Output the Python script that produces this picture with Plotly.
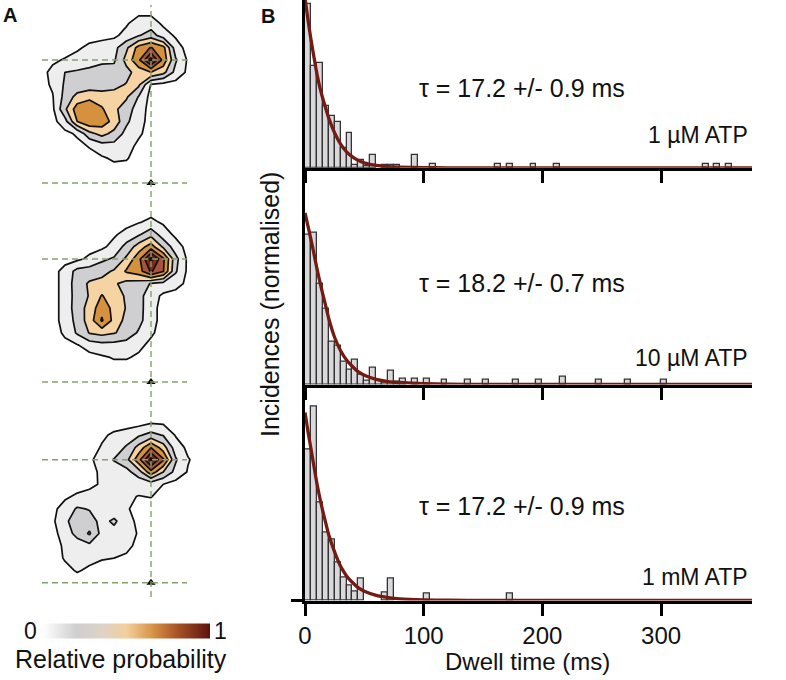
import plotly.graph_objects as go

W, H = 786, 680

# ================= DATA =================
# ---- Panel B: dwell-time histograms (5 ms bins, centres in ms) ----
BIN_WIDTH = 5
P1_BIN_CENTERS = [2.5, 7.5, 12.5, 17.5, 22.5, 27.5, 32.5, 37.5, 42.5, 47.5, 52.5, 57.5,
                  67.5, 72.5, 77.5, 92.5, 107.5, 162.5, 172.5, 192.5, 212.5, 337.5, 347.5, 357.5]
P1_INCIDENCE = [0.994, 0.62, 0.636, 0.374, 0.313, 0.279, 0.12, 0.212, 0.02, 0.05, 0.01, 0.08,
                0.016, 0.016, 0.016, 0.08, 0.026, 0.026, 0.026, 0.026, 0.026, 0.026, 0.026, 0.026]

P2_BIN_CENTERS = [2.5, 7.5, 12.5, 17.5, 22.5, 27.5, 32.5, 37.5, 42.5, 47.5, 52.5, 57.5,
                  62.5, 67.5, 72.5, 77.5, 82.5, 92.5, 102.5, 117.5, 137.5, 152.5, 177.5,
                  197.5, 217.5, 247.5, 272.5, 302.5]
P2_INCIDENCE = [0.91, 0.92, 0.612, 0.459, 0.257, 0.236, 0.135, 0.087, 0.152, 0.06, 0.02, 0.1,
                0.02, 0.01, 0.085, 0.015, 0.034, 0.034, 0.034, 0.026, 0.026, 0.026, 0.026,
                0.026, 0.045, 0.026, 0.026, 0.026]

P3_BIN_CENTERS = [2.5, 7.5, 12.5, 17.5, 22.5, 27.5, 32.5, 37.5, 42.5, 47.5, 67.5, 72.5,
                  102.5, 172.5]
P3_INCIDENCE = [0.915, 1.174, 0.596, 0.414, 0.368, 0.232, 0.137, 0.093, 0.052, 0.135, 0.048,
                0.135, 0.045, 0.042]

# single-exponential fits, values
FIT_T = [0, 2.5, 5, 7.5, 10, 12.5, 15, 17.5, 20, 25, 30, 35, 40, 45, 50, 60, 70, 80,
         100, 120, 150, 376.6]
FIT1_Y = [1.03, 0.897, 0.779, 0.673, 0.571, 0.488, 0.42, 0.359, 0.301, 0.211, 0.144, 0.097,
          0.066, 0.044, 0.03, 0.014, 0.007, 0.0035, 0.001, 0.0, 0.0, 0.0]
FIT2_Y = [1.04, 0.96, 0.88, 0.794, 0.705, 0.624, 0.548, 0.475, 0.4, 0.285, 0.205, 0.149,
          0.109, 0.076, 0.056, 0.031, 0.018, 0.012, 0.005, 0.002, 0.001, 0.0]
FIT3_Y = [1.14, 1.025, 0.921, 0.815, 0.711, 0.621, 0.542, 0.469, 0.398, 0.293, 0.207, 0.149,
          0.109, 0.076, 0.056, 0.031, 0.018, 0.01, 0.004, 0.002, 0.001, 0.0]

TAU_LABELS = ["τ = 17.2 +/- 0.9 ms", "τ = 18.2 +/- 0.7 ms", "τ = 17.2 +/- 0.9 ms"]
CONDITION_LABELS = ["1 µM ATP", "10 µM ATP", "1 mM ATP"]
X_TICKS = [0, 100, 200, 300]
X_TICK_LABELS = ["0", "100", "200", "300"]
X_TITLE = "Dwell time (ms)"
Y_TITLE = "Incidences (normalised)"

# ---- Panel A: relative-probability maps (grid in arbitrary units) ----
GRID_X = [-9, -8, -7, -6, -5, -4, -3, -2, -1, 0, 1, 2, 3, 4]
GRID_Y = [0, 1, 2, 3, 4, 5, 6, 7, 8, 9, 10, 11, 12, 13, 14]

Z_A1 = [
    [0, 0, 0, 0, 0, 0, 0, 0, 0, 0, 0, 0, 0, 0],
    [0, 0, 0, 0, 0, 0, 0, 0, 0, 0, 0, 0, 0, 0],
    [0, 0, 0, 0, 0, 0.03, 0.07, 0.06, 0, 0, 0, 0, 0, 0],
    [0, 0, 0, 0.01, 0.06, 0.13, 0.15, 0.1, 0.02, 0, 0, 0, 0, 0],
    [0, 0, 0.01, 0.07, 0.3, 0.4, 0.3, 0.15, 0.07, 0, 0, 0, 0, 0],
    [0, 0, 0.14, 0.5, 0.62, 0.58, 0.45, 0.23, 0.1, 0, 0, 0, 0, 0],
    [0, 0.02, 0.32, 0.58, 0.62, 0.52, 0.38, 0.28, 0.12, 0, 0, 0, 0, 0],
    [0, 0.04, 0.25, 0.4, 0.46, 0.42, 0.42, 0.37, 0.19, 0, 0, 0, 0, 0],
    [0, 0.07, 0.22, 0.25, 0.26, 0.27, 0.3, 0.36, 0.38, 0.04, 0, 0, 0, 0],
    [0.01, 0.08, 0.2, 0.22, 0.23, 0.24, 0.25, 0.3, 0.42, 0.5, 0.4, 0.15, 0.02, 0],
    [0, 0.03, 0.06, 0.1, 0.15, 0.18, 0.18, 0.4, 0.62, 1.0, 0.6, 0.22, 0.03, 0],
    [0, 0, 0, 0.03, 0.08, 0.12, 0.15, 0.32, 0.56, 0.66, 0.55, 0.12, 0, 0],
    [0, 0, 0, 0, 0, 0, 0.02, 0.1, 0.19, 0.27, 0.12, 0.03, 0, 0],
    [0, 0, 0, 0, 0, 0, 0, 0.03, 0.12, 0.12, 0.02, 0, 0, 0],
    [0, 0, 0, 0, 0, 0, 0, 0, 0, 0, 0, 0, 0, 0],
]

Z_A2 = [
    [0, 0, 0, 0, 0, 0, 0, 0, 0, 0, 0, 0, 0, 0],
    [0, 0, 0, 0, 0, 0, 0, 0, 0, 0, 0, 0, 0, 0],
    [0, 0, 0, 0, 0, 0.03, 0.06, 0.06, 0.03, 0, 0, 0, 0, 0],
    [0, 0, 0.02, 0.04, 0.12, 0.15, 0.15, 0.13, 0.08, 0.02, 0, 0, 0, 0],
    [0, 0, 0.07, 0.22, 0.36, 0.4, 0.36, 0.3, 0.18, 0.07, 0, 0, 0, 0],
    [0, 0, 0.1, 0.25, 0.42, 0.67, 0.45, 0.3, 0.25, 0.1, 0, 0, 0, 0],
    [0, 0, 0.1, 0.28, 0.4, 0.6, 0.45, 0.34, 0.26, 0.1, 0, 0, 0, 0],
    [0, 0, 0.1, 0.27, 0.36, 0.51, 0.42, 0.33, 0.25, 0.12, 0.02, 0, 0, 0],
    [0, 0, 0.1, 0.28, 0.37, 0.4, 0.37, 0.3, 0.28, 0.19, 0.15, 0.1, 0.02, 0],
    [0, 0, 0.1, 0.25, 0.27, 0.3, 0.37, 0.52, 0.58, 0.82, 0.66, 0.22, 0.02, 0],
    [0, 0, 0, 0.02, 0.08, 0.17, 0.22, 0.38, 0.6, 1.0, 0.68, 0.25, 0.02, 0],
    [0, 0, 0, 0, 0, 0.02, 0.1, 0.25, 0.42, 0.57, 0.32, 0.12, 0, 0],
    [0, 0, 0, 0, 0, 0, 0.03, 0.1, 0.18, 0.3, 0.12, 0.02, 0, 0],
    [0, 0, 0, 0, 0, 0, 0, 0, 0.04, 0.08, 0.03, 0, 0, 0],
    [0, 0, 0, 0, 0, 0, 0, 0, 0, 0, 0, 0, 0, 0],
]

Z_A3 = [
    [0, 0, 0, 0, 0, 0, 0, 0, 0, 0, 0, 0, 0, 0],
    [0, 0, 0.02, 0.06, 0.03, 0, 0, 0, 0, 0, 0, 0, 0, 0],
    [0, 0, 0.06, 0.1, 0.08, 0.06, 0.05, 0.03, 0, 0, 0, 0, 0, 0],
    [0, 0, 0.07, 0.12, 0.16, 0.12, 0.1, 0.08, 0.02, 0, 0, 0, 0, 0],
    [0, 0, 0.12, 0.25, 0.37, 0.15, 0.14, 0.1, 0.04, 0, 0, 0, 0, 0],
    [0, 0.02, 0.18, 0.25, 0.27, 0.15, 0.23, 0.1, 0.02, 0, 0, 0, 0, 0],
    [0, 0.02, 0.1, 0.22, 0.19, 0.1, 0.1, 0.06, 0.02, 0, 0, 0, 0, 0],
    [0, 0, 0.03, 0.07, 0.08, 0.09, 0.09, 0.07, 0.045, 0.055, 0, 0, 0, 0],
    [0, 0, 0, 0, 0.03, 0.06, 0.07, 0.08, 0.1, 0.11, 0.05, 0, 0, 0],
    [0, 0, 0, 0, 0, 0.08, 0.12, 0.15, 0.28, 0.6, 0.35, 0.15, 0.04, 0],
    [0, 0, 0, 0, 0.02, 0.12, 0.21, 0.3, 0.6, 1.0, 0.67, 0.22, 0.06, 0],
    [0, 0, 0, 0, 0, 0.06, 0.1, 0.22, 0.4, 0.64, 0.42, 0.12, 0.02, 0],
    [0, 0, 0, 0, 0, 0.03, 0.07, 0.1, 0.18, 0.25, 0.19, 0.04, 0, 0],
    [0, 0, 0, 0, 0, 0, 0, 0, 0, 0.04, 0.03, 0, 0, 0],
    [0, 0, 0, 0, 0, 0, 0, 0, 0, 0, 0, 0, 0, 0],
]
Z_MAPS = [Z_A1, Z_A2, Z_A3]
REF_LINES_Y = [0, 10]          # dashed reference positions
REF_LINE_X = [-8.86, 2.93]
COLORBAR_LABELS = ["0", "1", "Relative probability"]

# ================= STYLE =================
FONT = "Liberation Sans, Arial, Helvetica, sans-serif"
BAR_FILL = "#d9d9dc"
BAR_EDGE = "#333333"
FIT_COLOR = "#741c14"
DASH_COLOR = "#86a06a"
CONTOUR_SCALE = [[0, "#ffffff"], [1 / 7, "#eeeeee"], [2 / 7, "#cfcfd2"], [3 / 7, "#f6d3a2"],
                 [4 / 7, "#d6913f"], [5 / 7, "#a8533a"], [6 / 7, "#7e2a1c"], [1, "#5a1510"]]
BAR_SCALE = [[0, "#ffffff"], [0.2, "#cfcfcf"], [0.35, "#ddd3c6"], [0.5, "#f3cf9c"],
             [0.65, "#d9964a"], [0.8, "#aa5527"], [1, "#5c130c"]]


def px_x(px):
    return px / W


def px_y(py):
    return 1 - py / H


# geometry of panel B
XB0, XB1 = 305.0, 752.0
X_MAX = 376.6
PX_PER_UNIT = 165.0
B_ROWS = [(0.0, 167.8), (167.8, 384.5), (384.5, 600.5)]   # (top px, baseline px)

# geometry of panel A
A_SCALE = 12.3
A_ORIGIN_X = 151.0
A_ORIGIN_Y = [183.0, 382.0, 582.7]
A_XR = [-10.6, 4.0]
A_YR = [-1.4, 14.7]

fig = go.Figure()

hist_data = [(P1_BIN_CENTERS, P1_INCIDENCE, FIT1_Y),
             (P2_BIN_CENTERS, P2_INCIDENCE, FIT2_Y),
             (P3_BIN_CENTERS, P3_INCIDENCE, FIT3_Y)]

layout_axes = {}
for i, ((centers, vals, fit), (top, base)) in enumerate(zip(hist_data, B_ROWS)):
    n = i + 1
    xa = "x" if n == 1 else f"x{n}"
    ya = "y" if n == 1 else f"y{n}"
    fig.add_trace(go.Bar(x=centers, y=vals, width=BIN_WIDTH, xaxis=xa, yaxis=ya,
                         marker=dict(color=BAR_FILL, line=dict(color=BAR_EDGE, width=1.3)),
                         hoverinfo="skip", showlegend=False))
    fig.add_trace(go.Scatter(x=FIT_T, y=fit, xaxis=xa, yaxis=ya, mode="lines",
                             line=dict(color=FIT_COLOR, width=3.3, shape="spline", smoothing=0.6),
                             hoverinfo="skip", showlegend=False))
    layout_axes["xaxis" if n == 1 else f"xaxis{n}"] = dict(
        domain=[px_x(XB0), px_x(XB1)], range=[0, X_MAX], anchor=ya,
        showline=True, linewidth=3, linecolor="black", layer="below traces",
        ticks="outside", ticklen=12, tickwidth=3, tickcolor="black",
        tickvals=X_TICKS, ticktext=X_TICK_LABELS, showticklabels=(n == 3),
        tickfont=dict(family=FONT, size=24, color="#111"), ticklabelstandoff=0,
        showgrid=False, zeroline=False, automargin=False, fixedrange=True)
    layout_axes["yaxis" if n == 1 else f"yaxis{n}"] = dict(
        domain=[px_y(base), px_y(top)], range=[0, (base - top) / PX_PER_UNIT], anchor=xa,
        showline=True, linewidth=3, linecolor="black", ticks="", showticklabels=False,
        showgrid=False, zeroline=False, automargin=False, fixedrange=True)

# panel A maps
for i, z in enumerate(Z_MAPS):
    n = i + 4
    xa, ya = f"x{n}", f"y{n}"
    fig.add_trace(go.Contour(x=GRID_X, y=GRID_Y, z=z, xaxis=xa, yaxis=ya,
                             contours=dict(start=0.05, end=0.96, size=0.15, coloring="fill"),
                             colorscale=CONTOUR_SCALE, showscale=False,
                             line=dict(color="#111111", width=1.7, smoothing=0),
                             hoverinfo="skip"))
    fig.add_trace(go.Scatter(x=[0], y=[0], xaxis=xa, yaxis=ya, mode="markers",
                             marker=dict(symbol="triangle-up", size=8, color="black"),
                             hoverinfo="skip", showlegend=False))
    oy = A_ORIGIN_Y[i]
    top_px = oy - A_YR[1] * A_SCALE
    bot_px = oy - A_YR[0] * A_SCALE
    left_px = A_ORIGIN_X + A_XR[0] * A_SCALE
    right_px = A_ORIGIN_X + A_XR[1] * A_SCALE
    layout_axes[f"xaxis{n}"] = dict(domain=[px_x(left_px), px_x(right_px)], range=A_XR,
                                    anchor=ya, visible=False, fixedrange=True)
    layout_axes[f"yaxis{n}"] = dict(domain=[px_y(bot_px), px_y(top_px)], range=A_YR,
                                    anchor=xa, visible=False, fixedrange=True)

# colour bar (continuous) via an off-range dummy marker
fig.add_trace(go.Scatter(x=[0], y=[-50], xaxis="x4", yaxis="y4", mode="markers",
                         marker=dict(color=[0.5], cmin=0, cmax=1, colorscale=BAR_SCALE,
                                     size=1, showscale=True,
                                     colorbar=dict(orientation="h", x=px_x(126.5), xanchor="center",
                                                   y=px_y(630.5), yanchor="middle",
                                                   len=167 / W, lenmode="fraction",
                                                   thickness=15, thicknessmode="pixels",
                                                   outlinewidth=0, showticklabels=False, ticks="",
                                                   xpad=0, ypad=0)),
                         hoverinfo="skip", showlegend=False))

shapes = []
# vertical dashed reference line through all three maps
shapes.append(dict(type="line", xref="x4", yref="paper", x0=0, x1=0,
                   y0=px_y(597), y1=px_y(5),
                   line=dict(color=DASH_COLOR, width=1.4, dash="6px,4px")))
for i in range(3):
    n = i + 4
    for yv in REF_LINES_Y:
        shapes.append(dict(type="line", xref=f"x{n}", yref=f"y{n}", x0=REF_LINE_X[0],
                           x1=REF_LINE_X[1], y0=yv, y1=yv,
                           line=dict(color=DASH_COLOR, width=1.4, dash="6px,4px")))
# short extension of bottom baseline to the left of the y axis
shapes.append(dict(type="line", xref="paper", yref="paper", x0=px_x(291), x1=px_x(XB0),
                   y0=px_y(600.5), y1=px_y(600.5), line=dict(color="black", width=3)))

ann = []


def add_text(text, x, y, size, xanchor="center", yanchor="middle", bold=False, angle=0):
    ann.append(dict(text=f"<b>{text}</b>" if bold else text, x=px_x(x), y=px_y(y),
                    xref="paper", yref="paper", showarrow=False, xanchor=xanchor,
                    yanchor=yanchor, textangle=angle,
                    font=dict(family=FONT, size=size, color="#111")))


add_text("A", 10, 15, 20, bold=True)
add_text("B", 268, 16, 20, bold=True)
for lbl, yy in zip(TAU_LABELS, [88, 283, 506]):
    add_text(lbl, 417, yy, 25, xanchor="left")
for lbl, yy in zip(CONDITION_LABELS, [135, 358, 577]):
    add_text(lbl, 750, yy, 23, xanchor="right")
add_text(Y_TITLE, 270, 305, 25, angle=-90)
add_text(X_TITLE, 527, 661, 24)
add_text(COLORBAR_LABELS[0], 30, 631, 23)
add_text(COLORBAR_LABELS[1], 220, 631, 23)
add_text(COLORBAR_LABELS[2], 121, 659, 25)

fig.update_layout(width=W, height=H, margin=dict(l=0, r=0, t=0, b=0),
                  paper_bgcolor="white", plot_bgcolor="rgba(0,0,0,0)",
                  template="none", showlegend=False, bargap=0,
                  shapes=shapes, annotations=ann, **layout_axes)

fig.write_html("out.html", config={"displayModeBar": False},
               post_script="document.body.style.margin='0px';"
                           "document.body.style.overflow='hidden';")
